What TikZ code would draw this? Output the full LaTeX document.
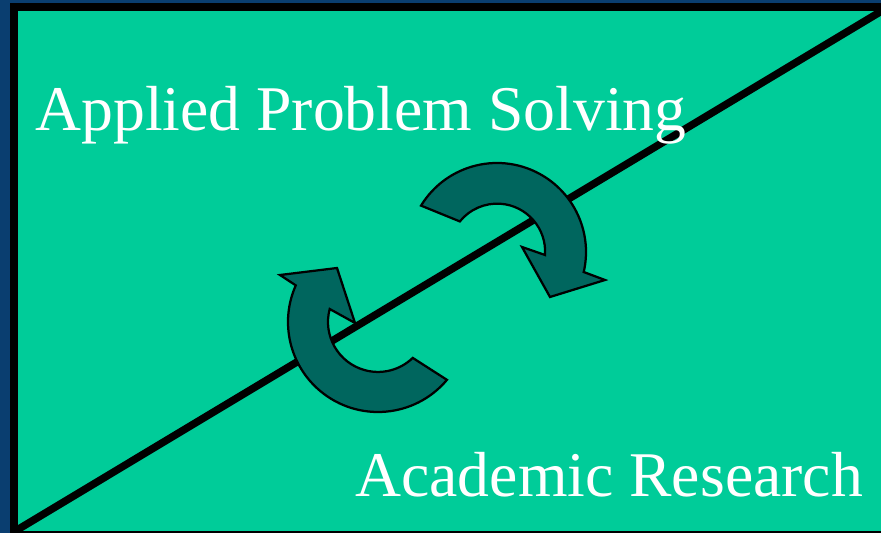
\documentclass[tikz,border=0pt]{standalone}
\usepackage{fontspec}
\setmainfont{Liberation Serif}
\usetikzlibrary{positioning}
\definecolor{slidebg}{RGB}{10,62,112}
\definecolor{panelgreen}{RGB}{0,204,153}
\definecolor{arrowteal}{RGB}{0,102,94}
\tikzset{
  panel/.style={draw=black, line width=0.16cm, fill=panelgreen},
  divider/.style={black, line width=0.15cm},
  turnarrow/.style={draw=black, line width=0.045cm, fill=arrowteal, line join=miter},
  caption/.style={text=white, font=\fontsize{36.25}{40}\selectfont, inner sep=0pt, anchor=base west}
}

\begin{document}
\begin{tikzpicture}[x=0.02cm,y=0.02cm]
\useasboundingbox (0,0) rectangle (881,533);
\clip (0,0) rectangle (881,533);
\fill[slidebg] (0,0) rectangle (881,533);
\draw[panel] (14,-2) rectangle (890,526);
\coordinate (lowleft) at (17,3);
\coordinate (upright) at (885,524);
\draw[divider] (lowleft) -- (upright);
% lower arrow, head pointing up
\draw[turnarrow] (378,211) ++(-40:90) arc[start angle=-40, end angle=-204, radius=90]
  -- (280,258) -- (337,265) -- (355,210) -- (329.7,224)
  arc[start angle=165, end angle=314, radius=50] -- cycle;
% upper arrow, head pointing down
\draw[turnarrow] (497,281) ++(148.6:89) arc[start angle=148.6, end angle=-13, radius=89]
  -- (605,253) -- (550,236) -- (522,286) -- (545,278)
  arc[start angle=-4, end angle=141, radius=48] -- cycle;
\node[caption] (applied) at (35,402) {Applied Problem Solving};
\node[caption] (academic) at (355,36) {Academic Research};
\end{tikzpicture}
\end{document}
